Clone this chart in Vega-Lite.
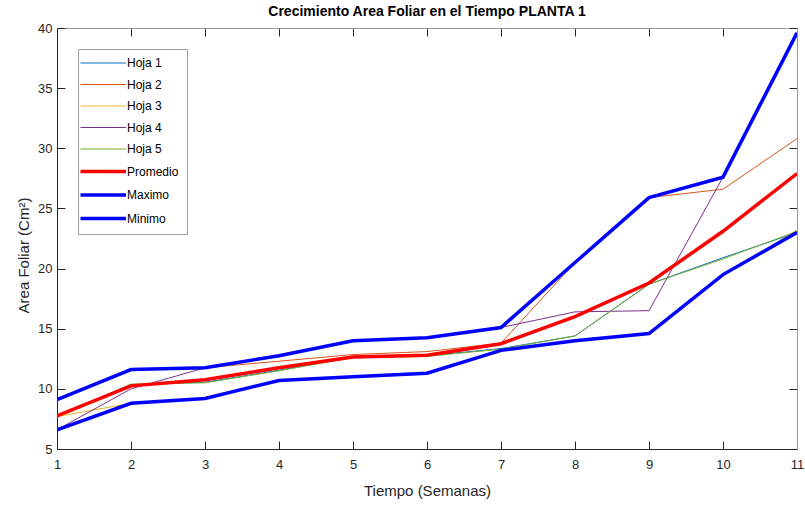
{
  "$schema": "https://vega.github.io/schema/vega-lite/v6.json",
  "autosize": {"type": "none"},
  "width": 740,
  "height": 421,
  "padding": {"left": 57, "top": 28, "right": 8, "bottom": 57},
  "background": "white",
  "config": {
    "font": "Liberation Sans",
    "view": {"stroke": null},
    "axis": {"grid": false, "labelFont": "Liberation Sans", "titleFont": "Liberation Sans", "labelColor": "#262626", "titleColor": "#262626", "tickColor": "#262626", "domainColor": "#262626", "labelFontSize": 13, "titleFontSize": 15, "titleFontWeight": "normal"}
  },
  "title": {"text": "Crecimiento Area Foliar en el Tiempo PLANTA 1", "font": "Liberation Sans", "fontSize": 14, "fontWeight": "bold", "color": "black", "offset": 3},
  "datasets": {
    "d": [
      {"semana": 1, "serie": "Hoja 1", "valor": 7.75},
      {"semana": 2, "serie": "Hoja 1", "valor": 10.35},
      {"semana": 3, "serie": "Hoja 1", "valor": 10.55},
      {"semana": 4, "serie": "Hoja 1", "valor": 11.55},
      {"semana": 5, "serie": "Hoja 1", "valor": 12.65},
      {"semana": 6, "serie": "Hoja 1", "valor": 12.75},
      {"semana": 7, "serie": "Hoja 1", "valor": 13.35},
      {"semana": 8, "serie": "Hoja 1", "valor": 14.4},
      {"semana": 9, "serie": "Hoja 1", "valor": 18.7},
      {"semana": 10, "serie": "Hoja 1", "valor": 20.9},
      {"semana": 11, "serie": "Hoja 1", "valor": 23.0},
      {"semana": 1, "serie": "Hoja 2", "valor": 9.1},
      {"semana": 2, "serie": "Hoja 2", "valor": 11.6},
      {"semana": 3, "serie": "Hoja 2", "valor": 11.75},
      {"semana": 4, "serie": "Hoja 2", "valor": 12.3},
      {"semana": 5, "serie": "Hoja 2", "valor": 12.85},
      {"semana": 6, "serie": "Hoja 2", "valor": 13.1},
      {"semana": 7, "serie": "Hoja 2", "valor": 13.8},
      {"semana": 8, "serie": "Hoja 2", "valor": 20.5},
      {"semana": 9, "serie": "Hoja 2", "valor": 25.9},
      {"semana": 10, "serie": "Hoja 2", "valor": 26.6},
      {"semana": 11, "serie": "Hoja 2", "valor": 30.8},
      {"semana": 1, "serie": "Hoja 3", "valor": 7.7},
      {"semana": 2, "serie": "Hoja 3", "valor": 8.8},
      {"semana": 3, "serie": "Hoja 3", "valor": 9.2},
      {"semana": 4, "serie": "Hoja 3", "valor": 10.7},
      {"semana": 5, "serie": "Hoja 3", "valor": 11.0},
      {"semana": 6, "serie": "Hoja 3", "valor": 11.3},
      {"semana": 7, "serie": "Hoja 3", "valor": 13.2},
      {"semana": 8, "serie": "Hoja 3", "valor": 14.0},
      {"semana": 9, "serie": "Hoja 3", "valor": 14.6},
      {"semana": 10, "serie": "Hoja 3", "valor": 19.5},
      {"semana": 11, "serie": "Hoja 3", "valor": 23.2},
      {"semana": 1, "serie": "Hoja 4", "valor": 6.6},
      {"semana": 2, "serie": "Hoja 4", "valor": 10.0},
      {"semana": 3, "serie": "Hoja 4", "valor": 11.75},
      {"semana": 4, "serie": "Hoja 4", "valor": 12.75},
      {"semana": 5, "serie": "Hoja 4", "valor": 14.0},
      {"semana": 6, "serie": "Hoja 4", "valor": 14.25},
      {"semana": 7, "serie": "Hoja 4", "valor": 15.1},
      {"semana": 8, "serie": "Hoja 4", "valor": 16.4},
      {"semana": 9, "serie": "Hoja 4", "valor": 16.5},
      {"semana": 10, "serie": "Hoja 4", "valor": 27.6},
      {"semana": 11, "serie": "Hoja 4", "valor": 39.6},
      {"semana": 1, "serie": "Hoja 5", "valor": 7.7},
      {"semana": 2, "serie": "Hoja 5", "valor": 10.4},
      {"semana": 3, "serie": "Hoja 5", "valor": 10.5},
      {"semana": 4, "serie": "Hoja 5", "valor": 11.5},
      {"semana": 5, "serie": "Hoja 5", "valor": 12.6},
      {"semana": 6, "serie": "Hoja 5", "valor": 12.7},
      {"semana": 7, "serie": "Hoja 5", "valor": 13.3},
      {"semana": 8, "serie": "Hoja 5", "valor": 14.4},
      {"semana": 9, "serie": "Hoja 5", "valor": 18.7},
      {"semana": 10, "serie": "Hoja 5", "valor": 20.8},
      {"semana": 11, "serie": "Hoja 5", "valor": 23.1},
      {"semana": 1, "serie": "Promedio", "valor": 7.75},
      {"semana": 2, "serie": "Promedio", "valor": 10.25},
      {"semana": 3, "serie": "Promedio", "valor": 10.75},
      {"semana": 4, "serie": "Promedio", "valor": 11.75},
      {"semana": 5, "serie": "Promedio", "valor": 12.65},
      {"semana": 6, "serie": "Promedio", "valor": 12.8},
      {"semana": 7, "serie": "Promedio", "valor": 13.75},
      {"semana": 8, "serie": "Promedio", "valor": 16.0},
      {"semana": 9, "serie": "Promedio", "valor": 18.8},
      {"semana": 10, "serie": "Promedio", "valor": 23.1},
      {"semana": 11, "serie": "Promedio", "valor": 27.9},
      {"semana": 1, "serie": "Maximo", "valor": 9.1},
      {"semana": 2, "serie": "Maximo", "valor": 11.6},
      {"semana": 3, "serie": "Maximo", "valor": 11.75},
      {"semana": 4, "serie": "Maximo", "valor": 12.75},
      {"semana": 5, "serie": "Maximo", "valor": 14.0},
      {"semana": 6, "serie": "Maximo", "valor": 14.25},
      {"semana": 7, "serie": "Maximo", "valor": 15.1},
      {"semana": 8, "serie": "Maximo", "valor": 20.5},
      {"semana": 9, "serie": "Maximo", "valor": 25.9},
      {"semana": 10, "serie": "Maximo", "valor": 27.6},
      {"semana": 11, "serie": "Maximo", "valor": 39.6},
      {"semana": 1, "serie": "Minimo", "valor": 6.6},
      {"semana": 2, "serie": "Minimo", "valor": 8.8},
      {"semana": 3, "serie": "Minimo", "valor": 9.2},
      {"semana": 4, "serie": "Minimo", "valor": 10.7},
      {"semana": 5, "serie": "Minimo", "valor": 11.0},
      {"semana": 6, "serie": "Minimo", "valor": 11.3},
      {"semana": 7, "serie": "Minimo", "valor": 13.2},
      {"semana": 8, "serie": "Minimo", "valor": 14.0},
      {"semana": 9, "serie": "Minimo", "valor": 14.6},
      {"semana": 10, "serie": "Minimo", "valor": 19.5},
      {"semana": 11, "serie": "Minimo", "valor": 23.0}
    ]
  },
  "data": {"name": "d"},
  "resolve": {"axis": {"x": "independent", "y": "independent"}},
  "layer": [
    {
      "transform": [{"filter": "indexof(datum.serie, 'Hoja') === 0"}],
      "mark": {"type": "line", "clip": true, "strokeWidth": 1},
      "encoding": {
        "x": {"field": "semana", "type": "quantitative", "scale": {"domain": [1, 11], "nice": false, "zero": false},
          "axis": {"orient": "bottom", "title": "Tiempo (Semanas)", "values": [1,2,3,4,5,6,7,8,9,10,11], "tickSize": -8, "labelPadding": 17, "titlePadding": 12, "labelFlush": false}},
        "y": {"field": "valor", "type": "quantitative", "scale": {"domain": [5, 40], "nice": false, "zero": false},
          "axis": {"orient": "left", "title": "Area Foliar (Cm²)", "values": [5,10,15,20,25,30,35,40], "tickSize": -8, "labelPadding": 13, "titlePadding": 6, "titleY": 227, "labelFlush": false}},
        "color": {"field": "serie", "type": "nominal",
          "scale": {"domain": ["Hoja 1","Hoja 2","Hoja 3","Hoja 4","Hoja 5","Promedio","Maximo","Minimo"],
                    "range": ["#0072BD","#D95319","#EDB120","#7E2F8E","#77AC30","#FF0000","#0000FF","#0000FF"]},
          "legend": {"title": null, "orient": "none", "legendX": 21, "legendY": 21, "symbolType": "M-1.15,0H3.4", "symbolSize": 400,
            "labelOffset": 29, "rowPadding": 9.5, "padding": 8, "strokeColor": "#a0a0a0", "fillColor": "white",
            "labelFont": "Liberation Sans", "labelFontSize": 12, "labelColor": "black", "labelLimit": 200,
            "encode": {"symbols": {"update": {"strokeWidth": {"signal": "(datum.label == 'Promedio' || datum.label == 'Maximo' || datum.label == 'Minimo') ? 3.5 : 1.2"}}}}}}
      }
    },
    {
      "transform": [{"filter": "indexof(datum.serie, 'Hoja') !== 0"}],
      "mark": {"type": "line", "clip": true, "strokeWidth": 3.5},
      "encoding": {
        "x": {"field": "semana", "type": "quantitative",
          "axis": {"orient": "top", "title": null, "labels": false, "values": [1,2,3,4,5,6,7,8,9,10,11], "tickSize": -8, "domainColor": "#999999"}},
        "y": {"field": "valor", "type": "quantitative",
          "axis": {"orient": "right", "title": null, "labels": false, "values": [5,10,15,20,25,30,35,40], "tickSize": -8, "domainColor": "#999999"}},
        "color": {"field": "serie", "type": "nominal"}
      }
    }
  ]
}
